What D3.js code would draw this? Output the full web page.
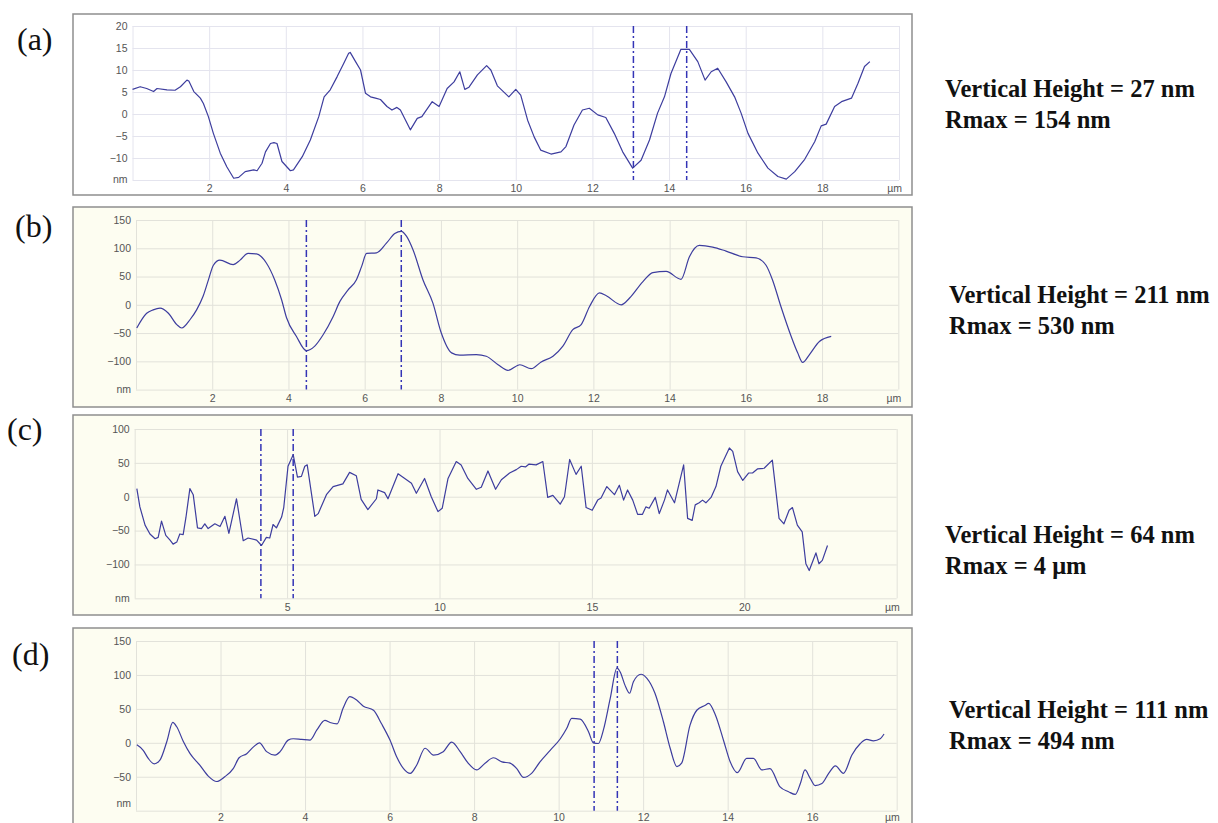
<!DOCTYPE html>
<html>
<head>
<meta charset="utf-8">
<script src="https://cdn.jsdelivr.net/npm/d3@7"></script>
<style>
  html, body { margin: 0; padding: 0; background: #ffffff; }
  svg { display: block; }
  .axis text { font-family: "Liberation Sans", Arial, sans-serif; font-size: 10.5px; fill: #555; }
  .unit { font-family: "Liberation Sans", Arial, sans-serif; font-size: 10.5px; fill: #555; }
  .tag { font-family: "Liberation Serif", "Times New Roman", serif; font-size: 32px; fill: #111; }
  .caption { font-family: "Liberation Serif", "Times New Roman", serif; font-size: 24.5px; font-weight: bold; fill: #111; }
</style>
</head>
<body>
<svg id="fig" width="1218" height="823"></svg>
<script>
// Line profiles: [distance (µm), height (nm)]
const profileA = [[0,5.6],[0.2,6.2],[0.37,5.8],[0.55,5.1],[0.64,5.8],[0.9,5.5],[1.11,5.4],[1.25,6.2],[1.42,7.7],[1.47,7.5],[1.6,5.1],[1.77,3.6],[1.85,2.4],[1.98,-0.6],[2.11,-4.4],[2.29,-8.9],[2.46,-12],[2.64,-14.6],[2.77,-14.4],[2.94,-13.1],[3.16,-12.7],[3.25,-12.9],[3.38,-11.2],[3.47,-8.6],[3.6,-6.7],[3.69,-6.5],[3.77,-6.7],[3.9,-10.8],[4.12,-12.9],[4.2,-12.7],[4.43,-9.7],[4.64,-5.9],[4.86,-0.6],[5.0,3.9],[5.16,5.5],[5.34,8.5],[5.51,11.5],[5.64,13.8],[5.68,14.0],[5.82,11.9],[5.95,10],[6.08,4.7],[6.21,3.9],[6.34,3.6],[6.47,3.3],[6.64,1.7],[6.77,0.9],[6.9,1.5],[6.99,0.9],[7.25,-3.6],[7.43,-1.0],[7.55,-0.6],[7.82,2.8],[8.0,1.7],[8.21,5.8],[8.39,7.3],[8.54,9.6],[8.67,5.6],[8.78,6.1],[9.0,8.9],[9.24,11.0],[9.35,10],[9.52,6.4],[9.82,3.9],[10.0,5.6],[10.13,4.3],[10.31,-1.4],[10.48,-5.2],[10.65,-8.2],[10.92,-9.1],[11.18,-8.6],[11.31,-7.4],[11.52,-2.5],[11.74,0.9],[11.92,1.3],[12.14,-0.2],[12.35,-0.8],[12.57,-4.4],[12.79,-8.6],[13.05,-12.3],[13.27,-10.5],[13.49,-5.9],[13.7,0.2],[13.88,3.9],[14.05,9.2],[14.31,14.7],[14.53,14.7],[14.75,11.9],[14.94,7.7],[15.1,9.6],[15.27,10.4],[15.49,7.3],[15.71,3.9],[15.88,0.2],[16.06,-4.4],[16.32,-8.9],[16.58,-12.3],[16.84,-14.2],[17.06,-14.8],[17.28,-13.1],[17.54,-10.3],[17.8,-6.3],[17.97,-2.7],[18.1,-2.3],[18.32,1.7],[18.5,2.8],[18.76,3.6],[18.93,7.0],[19.1,10.8],[19.24,11.9]];

const profileB = [[0.02,-41],[0.28,-15],[0.45,-9],[0.63,-6],[0.85,-15],[1.07,-35],[1.2,-41],[1.42,-26],[1.59,-9],[1.76,15],[1.9,44],[2.03,70],[2.2,79],[2.55,71],[2.73,79],[2.94,91],[3.16,90],[3.42,74],[3.64,44],[3.82,9],[3.95,-23],[4.21,-56],[4.47,-81],[4.69,-73],[4.91,-53],[5.17,-21],[5.35,6],[5.56,26],[5.78,44],[5.92,68],[6.05,91],[6.31,92],[6.57,109],[6.79,126],[6.96,130],[7.1,121],[7.27,97],[7.53,44],[7.79,3],[8.01,-50],[8.28,-85],[8.49,-89],[8.93,-88],[9.19,-91],[9.5,-106],[9.76,-116],[10.07,-106],[10.37,-113],[10.63,-101],[10.94,-91],[11.2,-73],[11.46,-44],[11.68,-35],[11.9,-3],[12.16,21],[12.34,16],[12.73,0],[12.95,12],[13.3,41],[13.56,57],[13.91,59],[14.3,45],[14.52,85],[14.78,105],[15.13,102],[15.48,95],[15.92,85],[16.27,83],[16.53,70],[16.7,44],[16.92,-3],[17.19,-56],[17.36,-85],[17.49,-102],[17.67,-88],[17.93,-65],[18.24,-56]];

const profileC = [[0.07,12],[0.17,-15],[0.34,-42],[0.5,-55],[0.67,-62],[0.77,-60],[0.88,-36],[1.02,-57],[1.16,-64],[1.26,-70],[1.38,-67],[1.48,-55],[1.59,-56],[1.68,-31],[1.81,12],[1.92,3],[2.06,-46],[2.19,-47],[2.3,-40],[2.41,-47],[2.63,-40],[2.8,-44],[2.96,-29],[3.09,-54],[3.34,-3],[3.56,-65],[3.72,-61],[4.0,-64],[4.16,-72],[4.32,-60],[4.43,-61],[4.54,-41],[4.65,-46],[4.82,-30],[4.89,-16],[5.03,45],[5.2,62],[5.34,29],[5.47,30],[5.58,45],[5.66,47],[5.91,-29],[6.02,-25],[6.29,3],[6.51,15],[6.83,19],[7.05,36],[7.27,31],[7.43,-4],[7.65,-19],[7.93,-3],[7.98,10],[8.2,6],[8.31,-3],[8.64,34],[8.86,27],[9.08,20],[9.24,5],[9.51,27],[9.73,0],[9.95,-22],[10.09,-17],[10.28,27],[10.55,52],[10.71,47],[10.93,27],[11.21,11],[11.37,14],[11.59,38],[11.84,11],[12.03,25],[12.3,35],[12.52,40],[12.68,45],[12.82,44],[12.93,48],[13.17,47],[13.39,52],[13.55,-1],[13.72,2],[13.96,-11],[14.1,0],[14.27,55],[14.48,33],[14.65,45],[14.81,-16],[15.01,-20],[15.19,-5],[15.3,-2],[15.49,15],[15.74,3],[15.9,17],[16.04,-5],[16.17,10],[16.34,-5],[16.5,-26],[16.66,-26],[16.77,-15],[16.88,-17],[17.08,-1],[17.21,-25],[17.38,-5],[17.48,10],[17.71,-9],[18.01,47],[18.14,-32],[18.29,-35],[18.39,-12],[18.52,-9],[18.63,-5],[18.74,-9],[18.91,-1],[19.07,15],[19.23,45],[19.51,72],[19.62,67],[19.78,37],[19.95,24],[20.14,35],[20.27,35],[20.43,41],[20.65,42],[20.92,54],[21.14,-32],[21.3,-40],[21.47,-20],[21.58,-16],[21.74,-42],[21.9,-52],[22.02,-99],[22.13,-109],[22.35,-83],[22.45,-99],[22.56,-94],[22.73,-72]];

const profileD = [[0.02,-3],[0.17,-11],[0.29,-23],[0.43,-31],[0.57,-25],[0.73,2],[0.87,30],[0.96,24],[1.12,2],[1.28,-16],[1.51,-33],[1.71,-49],[1.91,-57],[2.1,-50],[2.3,-38],[2.44,-22],[2.62,-16],[2.78,-6],[2.92,0],[3.09,-13],[3.29,-18],[3.41,-13],[3.6,4],[3.72,6],[3.92,5],[4.12,4],[4.28,19],[4.47,33],[4.59,30],[4.76,28],[4.9,51],[5.06,68],[5.22,63],[5.38,54],[5.62,48],[5.81,28],[6.01,4],[6.17,-21],[6.33,-38],[6.49,-45],[6.64,-33],[6.84,-8],[7.04,-18],[7.27,-13],[7.47,1],[7.67,-13],[7.86,-30],[8.06,-40],[8.26,-30],[8.46,-22],[8.66,-28],[8.85,-30],[9.01,-38],[9.17,-51],[9.36,-45],[9.56,-28],[9.8,-11],[10.04,6],[10.19,21],[10.31,36],[10.51,35],[10.71,16],[10.82,0],[10.94,-1],[11.06,19],[11.22,65],[11.38,110],[11.46,104],[11.57,85],[11.68,73],[11.77,90],[11.95,101],[12.09,95],[12.28,73],[12.48,31],[12.64,-8],[12.8,-35],[12.91,-30],[13.11,26],[13.27,48],[13.46,55],[13.55,58],[13.71,41],[13.91,2],[14.06,-28],[14.23,-44],[14.45,-23],[14.61,-23],[14.81,-40],[15.0,-38],[15.24,-65],[15.44,-72],[15.6,-76],[15.72,-60],[15.83,-40],[15.95,-52],[16.07,-63],[16.23,-60],[16.39,-45],[16.55,-34],[16.74,-45],[16.94,-18],[17.14,-1],[17.29,5],[17.45,3],[17.61,6],[17.7,13]];

// Cursor positions (µm)
const cursorsA = [13.07, 14.46];
const cursorsB = [4.47, 6.96];
const cursorsC = [4.14, 5.2];
const cursorsD = [10.84, 11.39];

// Tick labels
const xTicksA = [2, 4, 6, 8, 10, 12, 14, 16, 18];
const yTicksA = [20, 15, 10, 5, 0, -5, -10];
const xTicksB = [2, 4, 6, 8, 10, 12, 14, 16, 18];
const yTicksB = [150, 100, 50, 0, -50, -100];
const xTicksC = [5, 10, 15, 20];
const yTicksC = [100, 50, 0, -50, -100];
const xTicksD = [2, 4, 6, 8, 10, 12, 14, 16];
const yTicksD = [150, 100, 50, 0, -50];

// Axis extents
const xRangeA = [0, 20], yRangeA = [-15, 20];
const xRangeB = [0, 20], yRangeB = [-150, 150];
const xRangeC = [0, 25], yRangeC = [-150, 100];
const xRangeD = [0, 18], yRangeD = [-100, 150];

// Panel tags and measurement captions
const tags = ["(a)", "(b)", "(c)", "(d)"];
const captionA = ["Vertical Height = 27 nm", "Rmax = 154 nm"];
const captionB = ["Vertical Height = 211 nm", "Rmax = 530 nm"];
const captionC = ["Vertical Height = 64 nm", "Rmax = 4 \u03bcm"];
const captionD = ["Vertical Height = 111 nm", "Rmax = 494 nm"];

const panels = [
  { tag: tags[0], data: profileA, cursors: cursorsA, xTicks: xTicksA, yTicks: yTicksA, xr: xRangeA, yr: yRangeA, caption: captionA,
    box: [73, 14, 912, 195], plot: [132.5, 26, 899, 180], fill: "#ffffff", grid: "#e4e4ee",
    tagPos: [17, 50], capPos: [945, 97], curve: d3.curveLinear, nmDy: 0, xPad: 5 },
  { tag: tags[1], data: profileB, cursors: cursorsB, xTicks: xTicksB, yTicks: yTicksB, xr: xRangeB, yr: yRangeB, caption: captionB,
    box: [73, 207, 912, 407], plot: [136, 220, 898.3, 389.6], fill: "#fdfdf1", grid: "#e2e2da",
    tagPos: [15, 237], capPos: [949, 303], curve: d3.curveMonotoneX, nmDy: 0, xPad: 5 },
  { tag: tags[2], data: profileC, cursors: cursorsC, xTicks: xTicksC, yTicks: yTicksC, xr: xRangeC, yr: yRangeC, caption: captionC,
    box: [73, 415, 912, 615], plot: [134.7, 429, 896.7, 598.3], fill: "#fdfdf1", grid: "#e2e2da",
    tagPos: [7, 440], capPos: [945, 543], curve: d3.curveLinear, nmDy: 0, xPad: 5 },
  { tag: tags[3], data: profileD, cursors: cursorsD, xTicks: xTicksD, yTicks: yTicksD, xr: xRangeD, yr: yRangeD, caption: captionD,
    box: [73, 628, 912, 840], plot: [136, 641, 896.7, 810.7], fill: "#fdfdf1", grid: "#e2e2da",
    tagPos: [12, 665], capPos: [949, 718], curve: d3.curveMonotoneX, nmDy: -7, xPad: 2.5 }
];

const svg = d3.select("#fig");
svg.append("rect").attr("width", 1218).attr("height", 823).attr("fill", "#ffffff");

panels.forEach(p => {
  const g = svg.append("g");
  const [bx0, by0, bx1, by1] = p.box;
  const [px0, py0, px1, py1] = p.plot;

  // frame of the profile window
  g.append("rect")
    .attr("x", bx0).attr("y", by0)
    .attr("width", bx1 - bx0).attr("height", by1 - by0)
    .attr("fill", p.fill).attr("stroke", "#8e8e8e").attr("stroke-width", 1.5);

  const x = d3.scaleLinear().domain(p.xr).range([px0, px1]);
  const y = d3.scaleLinear().domain(p.yr).range([py1, py0]);

  // grid
  const gridX = [p.xr[0], ...p.xTicks, p.xr[1]];
  const gridY = [p.yr[0], ...p.yTicks];
  const gx = g.append("g").attr("transform", `translate(0,${py1})`)
    .call(d3.axisBottom(x).tickValues(gridX).tickSize(-(py1 - py0)).tickFormat(""));
  const gy = g.append("g").attr("transform", `translate(${px0},0)`)
    .call(d3.axisLeft(y).tickValues(gridY).tickSize(-(px1 - px0)).tickFormat(""));
  [gx, gy].forEach(a => {
    a.select(".domain").remove();
    a.selectAll("line").attr("stroke", p.grid).attr("stroke-width", 1);
  });

  // tick labels
  const ax = g.append("g").attr("class", "axis").attr("transform", `translate(0,${py1})`)
    .call(d3.axisBottom(x).tickValues(p.xTicks).tickSize(0).tickPadding(p.xPad).tickFormat(d3.format("d")));
  const ay = g.append("g").attr("class", "axis").attr("transform", `translate(${px0},0)`)
    .call(d3.axisLeft(y).tickValues(p.yTicks).tickSize(0).tickPadding(5).tickFormat(d3.format("d")));
  [ax, ay].forEach(a => { a.select(".domain").remove(); a.selectAll("text").attr("font-family", null).attr("font-size", null); });

  // unit labels
  g.append("text").attr("class", "unit")
    .attr("x", px0 - 5).attr("y", y(p.yr[0]) + p.nmDy).attr("dy", "0.32em")
    .attr("text-anchor", "end").text("nm");
  g.append("text").attr("class", "unit")
    .attr("x", px1 + 3).attr("y", py1 + p.xPad).attr("dy", "0.71em")
    .attr("text-anchor", "end").text("\u00b5m");

  // cursors
  g.selectAll(".cursor").data(p.cursors).enter().append("line")
    .attr("class", "cursor")
    .attr("x1", d => x(d)).attr("x2", d => x(d))
    .attr("y1", py0).attr("y2", py1)
    .attr("stroke", "#3434b6").attr("stroke-width", 1.5)
    .attr("stroke-dasharray", "7,3,2,3");

  // height profile
  const line = d3.line().x(d => x(d[0])).y(d => y(d[1])).curve(p.curve);
  g.append("path").datum(p.data)
    .attr("d", line)
    .attr("fill", "none").attr("stroke", "#3d3d9e").attr("stroke-width", 1.2)
    .attr("stroke-linejoin", "round");

  // panel tag
  svg.append("text").attr("class", "tag")
    .attr("x", p.tagPos[0]).attr("y", p.tagPos[1]).text(p.tag);

  // measurement caption
  const cap = svg.append("text").attr("class", "caption")
    .attr("x", p.capPos[0]).attr("y", p.capPos[1]);
  p.caption.forEach((t, i) => {
    cap.append("tspan").attr("x", p.capPos[0]).attr("dy", i === 0 ? 0 : 31).text(t);
  });
});
</script>
</body>
</html>
